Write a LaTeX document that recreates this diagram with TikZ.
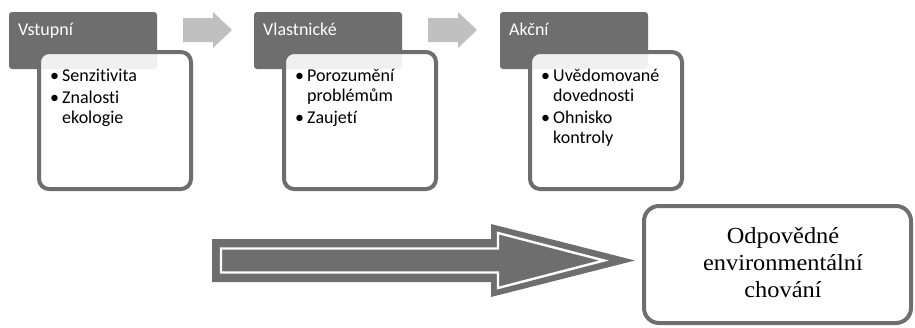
\documentclass[tikz,border=0pt]{standalone}
\usepackage{fontspec}
\setmainfont{Carlito}[Ligatures=NoCommon]
\newfontfamily\resultfont[FakeStretch=1.06]{Liberation Serif}
\definecolor{stagegray}{RGB}{110,110,110}
\definecolor{flowgray}{RGB}{192,192,192}
\begin{document}
\begin{tikzpicture}[x=1pt,y=-1pt,
  header/.style={fill=stagegray, rounded corners=3pt},
  card/.style={draw=stagegray, line width=4pt, fill=white, fill opacity=0.9, rounded corners=10pt},
  headlabel/.style={anchor=base west, inner sep=0pt, text=white, font=\fontsize{18}{20}\selectfont},
  itemlist/.style={anchor=base west, inner sep=0pt, font=\fontsize{18}{20}\selectfont},
  flowarrow/.style={fill=flowgray},
  result/.style={draw=stagegray, line width=4pt, fill=white, rounded corners=15pt}
]
\useasboundingbox (0,0) rectangle (915,327);

% three stages: header tab with an overlapping card
\foreach \dx in {0,245,491} {
  \fill[header] (9+\dx,12) rectangle (157+\dx,69);
  \draw[card] (39+\dx,52) rectangle (191+\dx,189);
}

% small arrows between stages
\foreach \dx in {0,245} {
  \fill[flowarrow] (183+\dx,18) -- (213+\dx,18) -- (213+\dx,12) -- (232+\dx,30)
    -- (213+\dx,48) -- (213+\dx,42) -- (183+\dx,42) -- cycle;
}

\node[headlabel] (h1) at (18,35) {Vstupní};
\node[headlabel] (h2) at (263,35) {Vlastnické};
\node[headlabel] (h3) at (509,35) {Akční};

\newcommand{\bul}{\makebox[12pt][l]{•}}
\node[itemlist] (l1) at (50,81) {\begin{tabular}[t]{@{}l@{}l@{}}
  \bul & Senzitivita\\[2.5pt]
  \bul & Znalosti\\
       & ekologie
\end{tabular}};
\node[itemlist] (l2) at (295,81) {\begin{tabular}[t]{@{}l@{}l@{}}
  \bul & Porozumění\\
       & problémům\\[2.5pt]
  \bul & Zaujetí
\end{tabular}};
\node[itemlist] (l3) at (541,81) {\begin{tabular}[t]{@{}l@{}l@{}}
  \bul & Uvědomované\\
       & dovednosti\\[2.5pt]
  \bul & Ohnisko\\
       & kontroly
\end{tabular}};

% big outlined arrow
\fill[stagegray] (212,239) -- (491,239) -- (491,224) -- (635,260.5) -- (491,297)
  -- (491,282) -- (212,282) -- cycle;
\filldraw[fill=stagegray, draw=white, line width=2.4pt, line join=miter]
  (221,248.5) -- (498,248.5) -- (498,233) -- (604,260.5) -- (498,288)
  -- (498,272.5) -- (221,272.5) -- cycle;

% result box
\draw[result] (644,206) rectangle (911,323);
\node[anchor=base, inner sep=0pt, font=\resultfont\fontsize{23}{27}\selectfont] (res) at (783,243)
  {\begin{tabular}[t]{@{}c@{}}Odpovědné\\ environmentální\\ chování\end{tabular}};
\end{tikzpicture}
\end{document}
